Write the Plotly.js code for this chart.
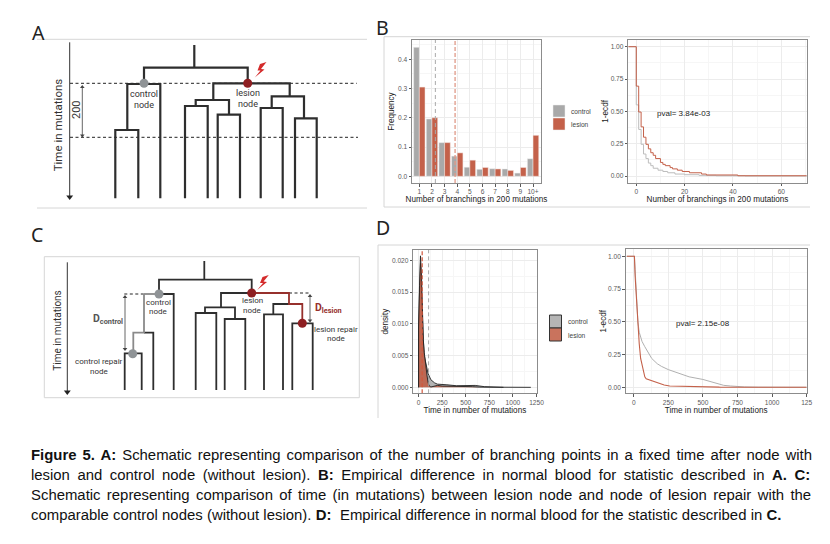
<!DOCTYPE html>
<html>
<head>
<meta charset="utf-8">
<script src="https://cdn.plot.ly/plotly-3.0.1.min.js"></script>
<style>
html,body{margin:0;padding:0;background:#fff}
#chart{width:830px;height:544px}
g.annotation[data-index="0"] text{word-spacing:1.9px}
g.annotation[data-index="1"] text{word-spacing:3.4px}
g.annotation[data-index="2"] text{word-spacing:2.2px}
g.annotation[data-index="3"] text{word-spacing:0.15px}
</style>
</head>
<body>
<div id="chart"></div>
<script>
// ---------- data ----------
var branchCategories = ["1","2","3","4","5","6","7","8","9","10+"];
var branchPositions = [1,2,3,4,5,6,7,8,9,10];
var branchControl = [0.441,0.196,0.115,0.069,0.031,0.024,0.026,0.025,0.011,0.060];
var branchLesion  = [0.305,0.200,0.115,0.080,0.055,0.030,0.025,0.020,0.030,0.140];
var branchMeanControl = 2.27, branchMeanLesion = 3.83;

var ecdfBx_control = [-3.3,0,1,2,3,4,5,6,7,9,11,13,16,20,26,33,45,70.5];
var ecdfBy_control = [1,0.55,0.36,0.245,0.17,0.135,0.10,0.08,0.06,0.045,0.035,0.025,0.015,0.01,0.005,0.002,0,0];
var ecdfBx_lesion = [-3.3,0,1,2,3,4,5,6,7,8,10,11,12,14,15,17,19,22,27,29,42,70.5];
var ecdfBy_lesion = [1,0.695,0.495,0.38,0.30,0.245,0.21,0.18,0.16,0.135,0.105,0.09,0.08,0.065,0.055,0.045,0.035,0.025,0.015,0.008,0.002,0];

var densX_control = [0,0,10,20,30,40,50,60,80,100,130,170,200,250,300,400,500,600,700,800,900,900];
var densY_control = [0,0.009,0.015,0.0195,0.0155,0.0105,0.0075,0.005,0.0035,0.0022,0.0012,0.0007,0.0005,0.0004,0.0004,0.00025,0.0003,0.0003,0.0001,0.00005,0,0];
var densX_lesion = [0,0,10,20,30,40,50,60,70,80,90,100,110,130,170,200,250,350,400,500,570,650,900,1190,1190];
var densY_lesion = [0,0.0095,0.016,0.0207,0.018,0.012,0.0075,0.0055,0.004,0.0028,0.0018,0.0008,0.0003,0.00005,0.0002,0.0003,0.0002,0.0002,0.00015,0.0001,0.0001,0.00003,0,0,0];
var densMeanControl = 106, densMeanLesion = 38;

var ecdfDx_control = [-50,5,10,20,30,40,60,80,100,130,170,200,250,300,350,400,500,550,600,650,700,750,800,900,1000,1250];
var ecdfDy_control = [1,1,0.9,0.7,0.5,0.42,0.35,0.31,0.27,0.22,0.18,0.16,0.135,0.115,0.095,0.08,0.06,0.045,0.03,0.015,0.01,0.005,0.003,0.001,0,0];
var ecdfDx_lesion = [-50,5,10,20,30,40,50,60,70,80,90,120,150,180,220,260,300,400,500,570,620,1250];
var ecdfDy_lesion = [1,1,0.85,0.65,0.48,0.33,0.22,0.17,0.12,0.08,0.065,0.055,0.045,0.03,0.018,0.01,0.009,0.008,0.006,0.002,0.001,0];

var timeTickVals = [0,250,500,750,1000,1250];
var timeTickText = ["0","250","500","750","1000","125"];

var captionLines = [
 "<b>Figure 5. A:</b> Schematic representing comparison of the number of branching points in a fixed time after node with",
 "lesion and control node (without lesion). <b>B:</b> Empirical difference in normal blood for statistic described in <b>A. C:</b>",
 "Schematic representing comparison of time (in mutations) between lesion node and node of lesion repair with the",
 "comparable control nodes (without lesion). <b>D:</b>&nbsp; Empirical difference in normal blood for the statistic described in <b>C.</b>"
];

// ---------- schematic diagrams: polylines in page units ----------
var treeA = [
 [[194.3,45],[194.3,67.7]],
 [[144,83.3],[144,67.7],[247.7,67.7],[247.7,83.3]],
 [[127.3,130],[127.3,84],[160.3,84],[160.3,198.3]],
 [[115.3,198.3],[115.3,130],[138.3,130],[138.3,198.3]],
 [[213.3,100],[213.3,83.3],[289.7,83.3],[289.7,96.3]],
 [[195.7,106],[195.7,100],[229,100],[229,114.7]],
 [[185,198.3],[185,106],[207.7,106],[207.7,198.3]],
 [[217.7,198.3],[217.7,114.7],[240,114.7],[240,198.3]],
 [[271.7,108],[271.7,96.3],[304,96.3],[304,118.3]],
 [[260.7,198.3],[260.7,108],[282.7,108],[282.7,198.3]],
 [[295,198.3],[295,118.3],[316.7,118.3],[316.7,198.3]]
];
var treeC = [
 [[204.3,261],[204.3,279.7]],
 [[159,294],[159,279.7],[251.7,279.7],[251.7,293]],
 [[159,294],[173.7,294],[173.7,390]],
 [[144,332.7],[153.3,332.7],[153.3,390]],
 [[124.7,390],[124.7,353.3],[141.7,353.3],[141.7,390]],
 [[221,307.3],[221,293],[251.7,293]],
 [[205,313],[205,307.3],[235,307.3],[235,319]],
 [[195.7,390],[195.7,313],[216.3,313],[216.3,390]],
 [[224.7,390],[224.7,319],[245.3,319],[245.3,390]],
 [[273.3,314.3],[273.3,304],[289,304]],
 [[264,390],[264,314.3],[283,314.3],[283,390]],
 [[292.3,390],[292.3,323.3],[312.7,323.3],[312.7,390]]
];
var treeCGray = [
 [[144,294],[159,294]],
 [[144,294],[144,332.7],[133.3,332.7],[133.3,353.3]]
];
var treeCRed = [
 [[251.7,293],[289,293],[289,304],[302.3,304],[302.3,323.3]]
];
var dotted = [
 [[70,83.3],[356.7,83.3]],
 [[70,137.3],[358,137.3]],
 [[124.3,294],[144,294]],
 [[289,293],[310.7,293]]
];
var timeAxes = [
 [[69.7,42.3],[69.7,196]],
 [[67.3,262.3],[67.3,391]]
];
var spans = [
 [[82.3,86],[82.3,136.7]],
 [[125,296],[125,350]],
 [[310,295],[310,321.7]]
];
var frames = [
 [[37,39.3],[367,39.3]],
 [[37,208],[367,208]],
 [[810,36.7],[384,36.7],[384,207],[810,207]],
 [[44.3,256.7],[359.3,256.7],[359.3,397.7],[44.3,397.7],[44.3,256.7]],
 [[810,245],[378,245],[378,418]]
];
var boltA = [[266.5,62],[260,64],[257.5,70.5],[260.5,70.5],[254.8,77.5],[264.5,69.5],[261,69],[266.5,62]];
var boltC = [[268.8,275],[262.5,277],[260,283],[263,283],[257.2,290],[267,282],[263.5,281.5],[268.8,275]];
var grayNodes = [[144,83.3],[159,294],[132.7,353.7]];
var redNodes = [[247.7,83.3],[251.7,293],[302.3,323.3]];

// colours
var GREY='#a9a9a9', RED='#c4614a', GRID='#ececec', MINOR='#f6f6f6', FRAME='#8c8c8c', TICK='#5a5a5a', INK='#2e2e2e';
var W=830, H=544;
function xd(a,b){return [a/W,b/W];}
function yd(a,b){return [1-b/H,1-a/H];}
function flat(paths){
  var x=[],y=[];
  paths.forEach(function(p){p.forEach(function(q){x.push(q[0]);y.push(q[1]);});x.push(null);y.push(null);});
  return {x:x,y:y};
}
var traces=[];
function poly(paths,color,width,dash){
  var f=flat(paths);
  traces.push({x:f.x,y:f.y,xaxis:'x5',yaxis:'y5',type:'scatter',mode:'lines',hoverinfo:'skip',showlegend:false,
    line:{color:color,width:width,dash:dash||'solid'}});
}
function pts(list,color,size,symbol){
  traces.push({x:list.map(function(p){return p[0];}),y:list.map(function(p){return p[1];}),xaxis:'x5',yaxis:'y5',type:'scatter',mode:'markers',
    hoverinfo:'skip',showlegend:false,marker:{color:color,size:size,symbol:symbol||'circle',line:{width:0}}});
}
function fillPoly(p,color){
  traces.push({x:p.map(function(q){return q[0];}),y:p.map(function(q){return q[1];}),xaxis:'x5',yaxis:'y5',type:'scatter',mode:'lines',fill:'toself',
    fillcolor:color,line:{width:0,color:color},hoverinfo:'skip',showlegend:false});
}

// chart traces
traces.push({type:'bar',x:branchPositions,y:branchControl,name:'control',xaxis:'x',yaxis:'y',marker:{color:GREY,line:{color:'#f2f2f2',width:0.5}},showlegend:false});
traces.push({type:'bar',x:branchPositions,y:branchLesion,name:'lesion',xaxis:'x',yaxis:'y',marker:{color:RED,line:{color:'#f2e4e0',width:0.5}},showlegend:false});
var yrB=[-0.023,0.466], yrE=[-0.0518,1.0518], yrD=[-0.00094,0.02162], yrF=[-0.0458,1.0534];
function vline(v,rng,xa,ya,c,w,dash){
  traces.push({x:[v,v],y:rng,xaxis:xa,yaxis:ya,type:'scatter',mode:'lines',hoverinfo:'skip',showlegend:false,line:{color:c,width:w,dash:dash}});
}
vline(branchMeanControl,yrB,'x','y','#aaaaaa',1,'4px,3px');
vline(branchMeanLesion,yrB,'x','y','#e09a88',1.3,'4px,2px');

function step(x,y,xa,ya,c,w,name){
  traces.push({x:x,y:y,xaxis:xa,yaxis:ya,name:name,type:'scatter',mode:'lines',line:{shape:'hv',color:c,width:w},showlegend:false});
}
step(ecdfBx_control,ecdfBy_control,'x2','y2','#bdbdbd',1,'control');
step(ecdfBx_lesion,ecdfBy_lesion,'x2','y2',RED,1,'lesion');

traces.push({x:densX_control,y:densY_control,xaxis:'x3',yaxis:'y3',name:'control',type:'scatter',mode:'lines',fill:'toself',fillcolor:'rgba(160,160,160,0.8)',line:{color:'#222',width:0.9},showlegend:false});
traces.push({x:densX_lesion,y:densY_lesion,xaxis:'x3',yaxis:'y3',name:'lesion',type:'scatter',mode:'lines',fill:'toself',fillcolor:'rgba(192,88,62,0.82)',line:{color:'#222',width:0.9},showlegend:false});
vline(densMeanControl,yrD,'x3','y3','#a0a0a0',0.9,'4px,3px');
vline(densMeanLesion,yrD,'x3','y3','#d2573b',1.2,'4px,2px');

function line4(x,y,c,w,name){
  traces.push({x:x,y:y,xaxis:'x4',yaxis:'y4',name:name,type:'scatter',mode:'lines',line:{color:c,width:w},showlegend:false});
}
line4(ecdfDx_control,ecdfDy_control,'#b0b0b0',1,'control');
line4(ecdfDx_lesion,ecdfDy_lesion,RED,1.1,'lesion');

// schematic traces
poly(frames,'#d6d6d6',1);
poly(dotted,'#222',1,'3px,2.5px');
poly(treeA,INK,2.2);
poly(treeC,INK,1.8);
poly(treeCGray,'#8a8a8a',1.8);
poly(treeCRed,'#96302c',1.8);
poly(timeAxes,'#333',1);
poly(spans,'#555',0.9);
pts([[69.7,197],[67.3,392]],'#222',6,'triangle-down');
pts([[82.3,87],[125,297],[310,296]],'#444',4,'triangle-up');
pts([[82.3,135.5],[125,349],[310,320.5]],'#444',4,'triangle-down');
pts(grayNodes,'#8f9396',9);
pts(redNodes,'#8e1f22',9);
fillPoly(boltA,'#d42b2b');
fillPoly(boltC,'#d42b2b');

function axis(dom,anchor,range,extra){
  var a={domain:dom,anchor:anchor,range:range,showgrid:true,gridcolor:GRID,gridwidth:0.8,zeroline:false,
    showline:true,mirror:true,linecolor:FRAME,linewidth:1,ticks:'outside',ticklen:2.5,tickwidth:0.7,tickcolor:TICK,
    tickfont:{family:'Liberation Sans',size:6.6,color:TICK},fixedrange:true};
  for(var k in extra){a[k]=extra[k];}
  return a;
}
function ttl(t,s){return {text:t,font:{family:'Liberation Sans',size:8.15,color:'#222'},standoff:s};}

var layout={
 width:W,height:H,margin:{l:0,r:0,t:0,b:0,pad:0},paper_bgcolor:'#fff',plot_bgcolor:'rgba(0,0,0,0)',showlegend:false,
 barmode:'group',bargap:0.1,bargroupgap:0,
 xaxis:axis(xd(412,541),'y',[0.42,10.63],{tickmode:'array',tickvals:branchPositions,ticktext:branchCategories,title:ttl('Number of branchings in 200 mutations',1)}),
 yaxis:axis(yd(40,183),'x',yrB,{dtick:0.1,tickformat:'.1f',minor:{dtick:0.05,showgrid:true,gridcolor:MINOR},title:ttl('Frequency',2)}),
 xaxis2:axis(xd(628.3,806.7),'y2',[-3.3,70.5],{tickvals:[0,20,40,60],tickmode:'array',minor:{dtick:10,showgrid:true,gridcolor:MINOR},title:ttl('Number of branchings in 200 mutations',1)}),
 yaxis2:axis(yd(40,182.7),'x2',yrE,{dtick:0.25,tickformat:'.2f',minor:{dtick:0.125,showgrid:true,gridcolor:MINOR},title:ttl('1-ecdf',0)}),
 xaxis3:axis(xd(413.3,536.5),'y3',[-56,1250],{tickvals:timeTickVals,tickmode:'array',minor:{dtick:125,showgrid:true,gridcolor:MINOR},title:ttl('Time in number of mutations',1)}),
 yaxis3:axis(yd(250,393.3),'x3',yrD,{dtick:0.005,tickformat:'.3f',minor:{dtick:0.0025,showgrid:true,gridcolor:MINOR},title:ttl('density',2)}),
 xaxis4:axis(xd(625.7,806.7),'y4',[-58,1250],{tickmode:'array',tickvals:timeTickVals,ticktext:timeTickText,minor:{dtick:125,showgrid:true,gridcolor:MINOR},title:ttl('Time in number of mutations',1)}),
 yaxis4:axis(yd(249.3,393.3),'x4',yrF,{dtick:0.25,tickformat:'.2f',minor:{dtick:0.125,showgrid:true,gridcolor:MINOR},title:ttl('1-ecdf',0)}),
 xaxis5:{domain:[0,1],range:[0,W],visible:false,anchor:'y5',fixedrange:true},
 yaxis5:{domain:[0,1],range:[H,0],visible:false,anchor:'x5',fixedrange:true},
 shapes:[
  {type:'rect',xref:'x5',yref:'y5',x0:553,x1:565,y0:105,y1:117,fillcolor:GREY,line:{color:'#eee',width:0.5}},
  {type:'rect',xref:'x5',yref:'y5',x0:553,x1:565,y0:118,y1:130,fillcolor:RED,line:{color:'#eee',width:0.5}},
  {type:'rect',xref:'x5',yref:'y5',x0:549.5,x1:561.5,y0:315,y1:328,fillcolor:'#b5b5b5',line:{color:'#333',width:1}},
  {type:'rect',xref:'x5',yref:'y5',x0:549.5,x1:561.5,y0:328,y1:341,fillcolor:'#c9735d',line:{color:'#333',width:1}}
 ],
 annotations:[]
};
function note(t,x,y,size,opt){
  opt=opt||{};
  layout.annotations.push({text:t,x:x,y:y,xref:opt.xref||'x5',yref:opt.yref||'y5',showarrow:false,
    xanchor:opt.anchor||'center',yanchor:'middle',textangle:opt.angle||0,align:opt.align||'center',borderpad:0,
    font:{family:opt.family||'Roboto',size:size,color:opt.color||'#333'}});
}
// caption first so the CSS word-spacing indexes match
var SANS='Liberation Sans';
captionLines.forEach(function(t,i){note(t,30,[455,475,495,515][i],14.9,{anchor:'left',family:SANS,color:'#111',align:'left'});});
// panel letters
note('A',38,32.5,19.5,{family:'Noto Sans',color:'#222'});
note('B',382.5,27.5,19.5,{family:'Noto Sans',color:'#222'});
note('C',37,234,19.5,{family:'Noto Sans',color:'#222'});
note('D',383,227,19.5,{family:'Noto Sans',color:'#222'});
// schematic A
note('Time in mutations',58.3,125,11.5,{angle:-90});
note('200',76.7,109.3,11,{angle:-90});
note('control',143.5,94,9);note('node',143.5,105.3,9);
note('lesion',247.7,92.5,9);note('node',247.7,103.7,9);
// schematic C
note('Time in mutations',56.7,331,10,{angle:-90});
note('<b>D<sub>control</sub></b>',108.3,319.3,10.5,{color:'#555'});
note('<b>D<sub>lesion</sub></b>',328.3,307.7,10.5,{color:'#96302c'});
note('control',158.3,302.3,8);note('node',158.3,311.7,8);
note('lesion',252,300.7,8);note('node',252,310,8);
note('control repair',99.3,361.7,8);note('node',99.3,371.7,8);
note('lesion repair',336,329,8);note('node',336,338.7,8);
// legends
note('control',570,111.7,6.6,{anchor:'left',family:SANS,color:'#444'});
note('lesion',570,124.3,6.6,{anchor:'left',family:SANS,color:'#444'});
note('control',566.5,321.7,6.6,{anchor:'left',family:SANS,color:'#444'});
note('lesion',566.5,335,6.6,{anchor:'left',family:SANS,color:'#444'});
// p values
note('pval= 3.84e-03',19.9,0.485,8,{xref:'x2',yref:'y2',family:SANS,color:'#222'});
note('pval= 2.15e-08',498.5,0.49,8,{xref:'x4',yref:'y4',family:SANS,color:'#222'});

Plotly.newPlot('chart',traces,layout,{displayModeBar:false,responsive:false});
</script>
</body>
</html>
